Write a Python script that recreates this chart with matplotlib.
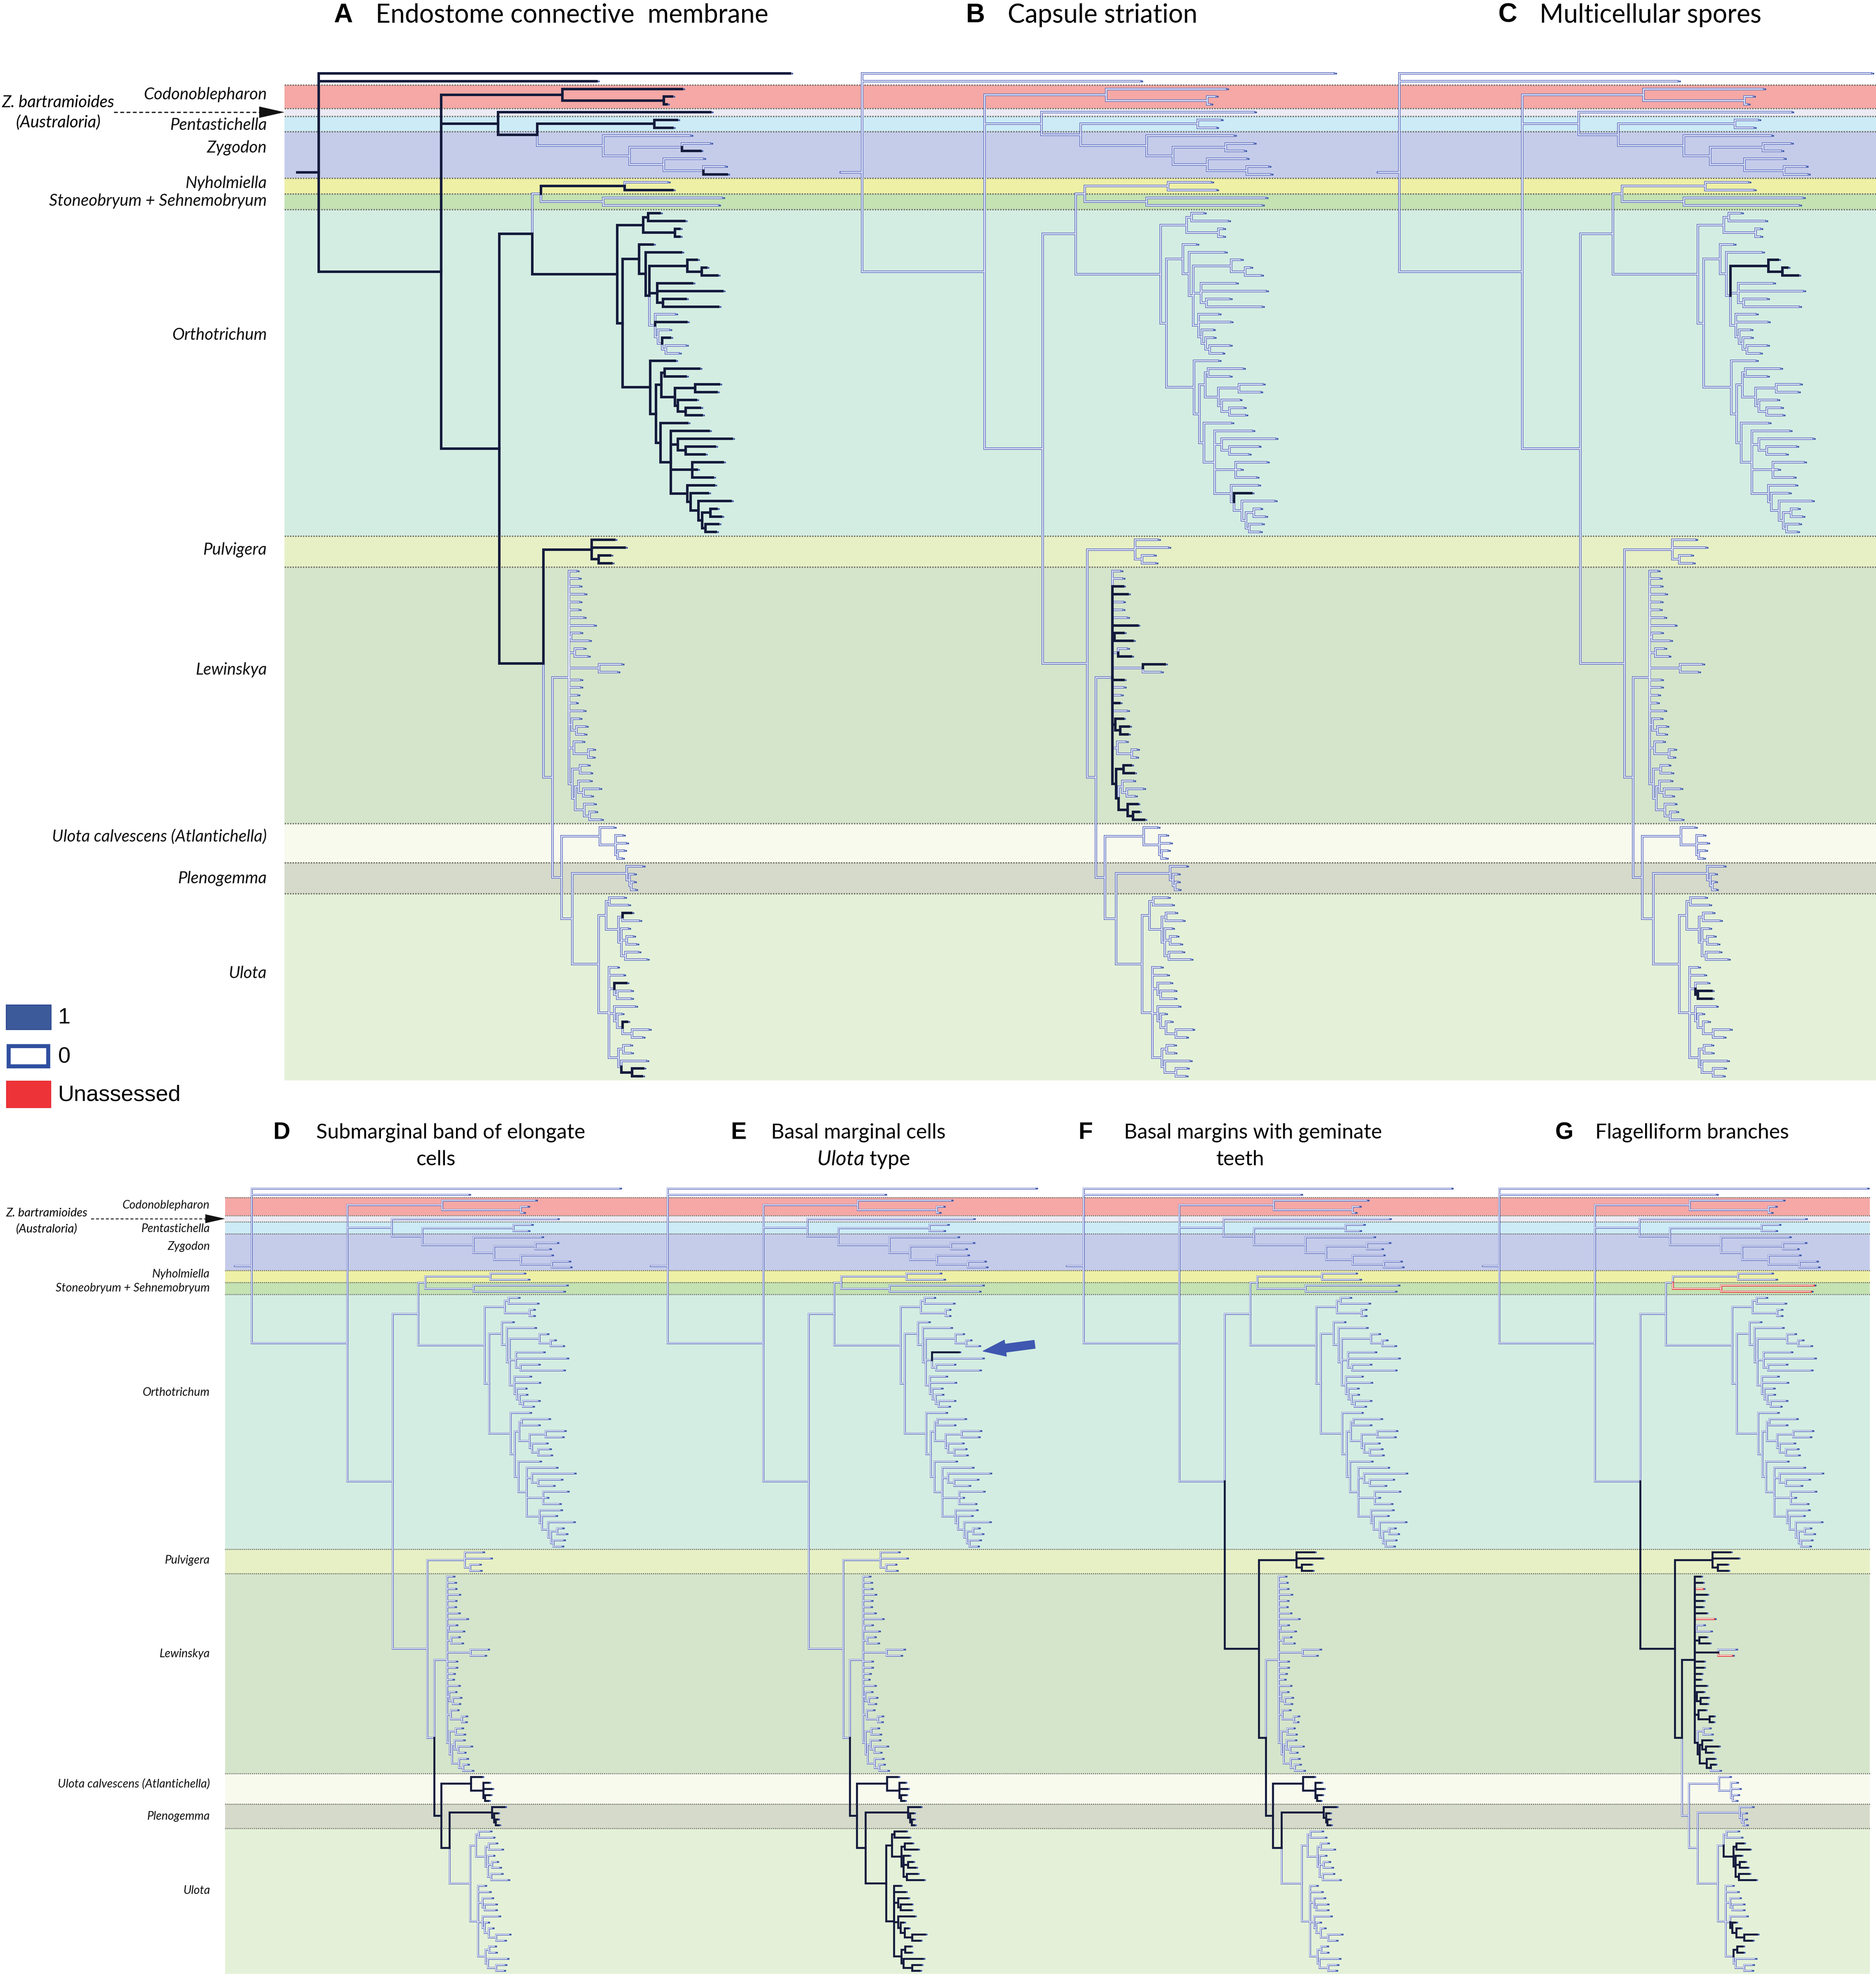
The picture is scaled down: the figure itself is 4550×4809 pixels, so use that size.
import matplotlib
matplotlib.use('Agg')
import matplotlib.pyplot as plt
from matplotlib.collections import LineCollection
from matplotlib.patches import Rectangle, Polygon, FancyArrow

plt.rcParams['font.family'] = ['Lato', 'DejaVu Sans']
plt.rcParams['mathtext.fontset'] = 'custom'
plt.rcParams['mathtext.it'] = 'Lato:italic'
plt.rcParams['mathtext.rm'] = 'Lato'

# ---- tree (newick; number after ':' = node depth, px from root) ----
CODONO = "(cd1:287.6,(cd2:279.6,cd3:275.4)cd_n:273)codono:193"
ZPZ = ("(zbart:310,((pe1:283.6,pe2:280)penta:265.6,(zy1:294,((zy2:309.6,zy3:302)zy_n2:287.5,"
       "(zy4:304,(zy5:321.4,zy6:323)zy_n4:304.4)zy_n3:273)zy_n1:246)zyg:225)pz:173)zpz:142")
NS = "((ny1:276,ny2:280)nyh:242,(st1:319,st2:316)stoneo:225)ns:176"
ORTH_1 = "((o1:270,o2:289.3)o_n970:260.6,(o3:285.5,o4:285.5)o_n1140:281.8)o_sub1:256.8"
ORTH_A = ("(o5:264.3,(o6:286.8,((o7:299.3,(o8:306.8,o9:315.5)o_n1310:303)o7_9:291.8,"
          "(o10:295.5,o11:319.3,(o12:290.5,o13:316.1)o_n1065:272.4)o_n1030:268,"
          "(o14:281.8,o15:291.2,(o16:277.4,(o17:278,(o18:290.5,o19:284.9)o_n1085:274.9)o_n1060:271.8)"
          "o_n1035:268.7)o_light:266.2)o_n980:261.8)o_n955:258.7)o_A:253.7")
ORTH_B = ("(o20:281.8,(((o21:301.1,o22:290.5)o_n1075:273.7,((o23:316.8,o24:314.9)o_n1270:298,"
          "(o25:298.6,(o26:301.8,o27:303)o_n1210:290.5)o_n1160:284.3)o_n1140b:281.8)o_n1055:271.2,"
          "(o28:291.8,(o29:308.6,(o30:326.8,(o31:313.6,o32:305.5)o_n1210b:290.5)o_n1160b:284.3,"
          "(o33:319.9,o34:299.3,o35:311.8)o_n1250:295.5,(o36:313,(o37:308,(o38:326.1,"
          "((o39:314.9,o40:318.6)o_n1365:309.9,(o41:316.1,o42:314.3)o_n1335:306.1)o_n1315:303.6)"
          "o_n1290:300.5)o_n1240:294.3)o_n1220b:291.8)o_n1115:278.7)o_n1050:270.5)o_n1020:266.8)o_B:262.4")
PULV = "(pu1:234,pu2:242.1,(pu3:230.7,pu4:231.8)pu_n:221.5)pulv:216"
LEW = ("(lw1:204.1,lw2:205.7,lw3:206.3,lw4:210.1,lw5:206.3,lw6:205.7,lw7:209.5,lw8:217.7,"
       "(lw9:206.8,lw10:213.9)lw9_10:199.7,(lw11:209.5,lw12:212.8)lw11_12:202.5,"
       "(lw13:239.4,lw14:236.2)lw_side:222,lw15:206.8,lw16:206.8,lw17:204.6,lw18:203.5,lw19:209.5,"
       "(lw20:206.3,(lw21:211.1,lw22:210.1)lw21_22:204.1)lw20_22:200.3,"
       "(lw23:208.4,(lw24:217.1,lw25:216.6)lw24_25:213.3)lw23_25:201.9,"
       "((lw26:212.8,lw27:214.9)lw26_27:206.8,((lw28:214.4,(lw29:222,lw30:215.5)lw29_30:209.5)lw28_30:205.7,"
       "(lw31:217.7,(lw32:218.8,lw33:223.1)lw32_33:214.4)lw31_33:210.1)lw28_33:203)lw26_33:200.8)lew:198.1")
UCALV = "(uc1:233.4,(uc2:240.5,uc3:243.2,(uc4:241.6,uc5:240)uc_n3:236.7)uc_n2:235)ucalv:222.6"
PLENO = "(pl1:256.2,(pl2:249.4,(pl3:249.4,pl4:250.3)pl_n3:247.5)pl_n2:245.9)pleno:243.7"
ULOTA = ("(((u1:241.6,u2:244.8)u1_2:230.2,((u3:247.5,u4:253.5)u3_4:240.5,(u5:244.8,"
         "(u6:248.6,u7:251.4)u6_7:243.7,(u8:253,u9:259.5)u8_9:242.7)u5_9:239.4)u3_9:237.2)u1_9:227.4,"
         "(u10:236.1,u11:241,(u12:243.5,(u13:247,u14:247)u13_14:236.1)u12_14:234,"
         "(u15:250.3,(u16:239.4,(u17:244,(u18:261.1,u19:256.2)u18_19:248.1)u17_19:240.5)u16_19:236.1)u15_19:234,"
         "((u20:246.5,u21:247)u20_21:241,(u22:259,(u23:256.8,u24:255.7)u23_24:248.1)u22_24:239.4)u20_24:237.2)"
         "u10_24:229.6)ulota:221.5")
TREE = (f"(out1:373,out2:220,({CODONO},{ZPZ},(({NS},({ORTH_1},({ORTH_A},{ORTH_B})o_sub2:240.6)orth:236.2)og:169,"
        f"({PULV},({LEW},({UCALV},({PLENO},{ULOTA})pu:200.8)ug:192.1)lu:185)plu:178)rest:143)ingroup:97)root:0")

# ---- genus bands ----
GROUP_NAMES = ['Codonoblepharon', 'Z. bartramioides', 'Pentastichella', 'Zygodon', 'Nyholmiella',
               'Stoneobryum + Sehnemobryum', 'Orthotrichum', 'Pulvigera', 'Lewinskya',
               'Ulota calvescens (Atlantichella)', 'Plenogemma', 'Ulota']
GROUP_NTIPS = [3, 1, 2, 6, 2, 2, 42, 4, 33, 5, 4, 24]
GROUP_COLORS = ['#F5A8A5', '#ECEAF3', '#CDEBF6', '#C5CCEA', '#EEF0A6', '#C4E2B2',
                '#D4EDE2', '#E7F0C5', '#D5E5CB', '#F8FAEE', '#D6DACA', '#E4F1D8']
N_OUTGROUP = 2

# ---- character states per panel: (node, state, 'clade'|'branch'); 1 = present, 0 = absent, 2 = unassessed ----
STATES_A = [('root', 1, 'clade'), ('zyg', 0, 'clade'), ('zy3', 1, 'branch'), ('zy6', 1, 'branch'),
            ('ns', 0, 'clade'), ('nyh', 1, 'branch'), ('ny2', 1, 'branch'),
            ('o_light', 0, 'clade'), ('o15', 1, 'branch'), ('o17', 1, 'branch'),
            ('lu', 0, 'clade'), ('u3', 1, 'branch'), ('u12', 1, 'branch'), ('u17', 1, 'branch'),
            ('u23_24', 1, 'clade')]
STATES_B = [('o37', 1, 'branch'), ('lw3', 1, 'branch'), ('lw4', 1, 'branch'), ('lw8', 1, 'branch'),
            ('lw9_10', 1, 'clade'), ('lw12', 1, 'branch'), ('lw13', 1, 'branch'), ('lw15', 1, 'branch'),
            ('lw18', 1, 'branch'), ('lw20_22', 1, 'clade'), ('lw26_33', 1, 'clade'), ('lw28_30', 0, 'clade')]
STATES_C = [('o7_9', 1, 'clade'), ('u13_14', 1, 'clade')]
STATES_D = [('ug', 1, 'clade'), ('ulota', 0, 'clade')]
STATES_E = [('ug', 1, 'clade'), ('o10', 1, 'branch')]
STATES_F = [('plu', 1, 'clade'), ('lew', 0, 'clade'), ('ulota', 0, 'clade')]
STATES_G = [('plu', 1, 'clade'), ('ug', 0, 'clade'), ('lw9_10', 0, 'clade'), ('lw13', 0, 'branch'),
            ('lw3', 2, 'branch'), ('lw8', 2, 'branch'), ('lw14', 2, 'branch'), ('lw26_27', 0, 'clade'),
            ('lw33', 0, 'branch'), ('stoneo', 2, 'clade'), ('u3_9', 1, 'clade'), ('u16_19', 1, 'clade'),
            ('u20_21', 1, 'clade')]

PANEL_TITLES = ['Endostome connective  membrane', 'Capsule striation', 'Multicellular spores',
                'Submarginal band of elongate', 'Basal marginal cells', 'Basal margins with geminate',
                'Flagelliform branches']
PANEL_TITLES_2 = [None, None, None, 'cells', '$\\mathit{Ulota}$ type', 'teeth', None]

# ---- layout (display px of a 1484 x 1568.5 canvas) ----
W, H = 1484.0, 1568.5
TIP_Y0, TIP_DY = 58.0, 6.15
ROOT_STUB = -17
LABEL_Y = [75, None, 99, 117, 145, 159, 265, 435, 530, 662, 695, 770]
ROW_TOP = dict(y0=58.0, s=1.0, band=(225, 1484), label_x=211, label_fs=29, zb=(46, 81, 97, 90, 225, 29),
               title_fs=45, letter_fs=46)
ROW_BOT = dict(y0=940.0, s=0.78, band=(178, 1479), label_x=166, label_fs=20.5, zb=(37, 959.5, 972, 72, 178, 21),
               title_fs=36, letter_fs=41)
PANELS = [('A', ROW_TOP, 252, STATES_A, (264, 297, 12)),
          ('B', ROW_TOP, 682, STATES_B, (764, 797, 12)),
          ('C', ROW_TOP, 1107, STATES_C, (1185, 1218, 12)),
          ('D', ROW_BOT, 199, STATES_D, (216, 250, 896)),
          ('E', ROW_BOT, 528, STATES_E, (578, 610, 896)),
          ('F', ROW_BOT, 857, STATES_F, (853, 889, 896)),
          ('G', ROW_BOT, 1186, STATES_G, (1230, 1262, 896))]
LINE2_DX = {'D': 95, 'E': 73, 'F': 92}
DARK = '#141B3C'
LIGHT_EDGE = '#6677C4'
LIGHT_FILL = '#F1F2FB'
RED = '#E52A2D'
TIP_COLOR = '#3350A6'


def parse(s):
    pos = 0

    def rec():
        nonlocal pos
        kids = []
        if s[pos] == '(':
            pos += 1
            kids.append(rec())
            while s[pos] == ',':
                pos += 1
                kids.append(rec())
            pos += 1
        start = pos
        while s[pos] != ':':
            pos += 1
        label = s[start:pos]
        pos += 1
        start = pos
        while pos < len(s) and s[pos] not in ',()':
            pos += 1
        return {'label': label, 'x': float(s[start:pos]), 'kids': kids}
    return rec()


root = parse(TREE)
nodes = []
n_tips = [0]


def layout(n, parent):
    n['parent'] = parent
    n['i'] = len(nodes)
    nodes.append(n)
    if not n['kids']:
        n['y'] = TIP_Y0 + TIP_DY * n_tips[0]
        n_tips[0] += 1
    else:
        for k in n['kids']:
            layout(k, n)
        n['y'] = 0.5 * (n['kids'][0]['y'] + n['kids'][-1]['y'])


layout(root, None)
by_label = {n['label']: n for n in nodes}


def ty(row, y):
    return row['y0'] + row['s'] * (y - TIP_Y0)


def panel_states(rules):
    st = [0] * len(nodes)
    for label, state, mode in rules:
        stack = [by_label[label]]
        while stack:
            n = stack.pop()
            st[n['i']] = state
            if mode == 'clade':
                stack.extend(n['kids'])
    return st


fig = plt.figure(figsize=(45.5, 48.09), dpi=100)
ax = fig.add_axes([0, 0, 1, 1])
ax.set_xlim(0, W)
ax.set_ylim(H, 0)
ax.axis('off')


def draw_bands(row):
    x1, x2 = row['band']
    i = N_OUTGROUP
    for name, nt, col, ly in zip(GROUP_NAMES, GROUP_NTIPS, GROUP_COLORS, LABEL_Y):
        top = ty(row, TIP_Y0 + TIP_DY * (i - 0.5))
        bot = ty(row, TIP_Y0 + TIP_DY * (i + nt - 0.5))
        ax.add_patch(Rectangle((x1, top), x2 - x1, bot - top, fc=col, ec='none', zorder=1))
        ax.plot([x1, x2], [top, top], color='#6F6F66', lw=2.4 * row['s'],
                ls=(0, (1.0, 0.9)), zorder=2)
        if ly is not None:
            ax.text(row['label_x'], ty(row, ly), name, ha='right', va='center',
                    fontsize=row['label_fs'], style='italic', color='#111111')
        i += nt
    # Z. bartramioides pointer
    cx, y1, y2, xa, xb, fs = row['zb']
    ax.text(cx, y1, 'Z. bartramioides', ha='center', va='center', fontsize=fs, style='italic')
    ax.text(cx, y2, '(Australoria)', ha='center', va='center', fontsize=fs, style='italic')
    ya = ty(row, TIP_Y0 + TIP_DY * 5)
    hl = 20 * row['s']
    hw = 4.5 * row['s']
    ax.plot([xa, xb - hl], [ya, ya], color='#222222', lw=2.2 * row['s'], ls=(0, (3, 2)), zorder=3)
    ax.add_patch(Polygon([(xb - hl, ya - hw), (xb, ya), (xb - hl, ya + hw)], closed=True,
                         fc='#111111', ec='none', zorder=3))


def draw_tree(x0, row, rules):
    s = row['s']
    st = panel_states(rules)
    segs = {0: [], 1: [], 2: []}
    tips = []
    for n in nodes:
        X = x0 + s * n['x']
        Y = ty(row, n['y'])
        p = n['parent']
        if p is None:
            seg = [(x0 + s * ROOT_STUB, Y), (X, Y)]
        else:
            PX = x0 + s * p['x']
            PY = ty(row, p['y'])
            seg = [(PX, PY), (PX, Y), (X, Y)]
        segs[st[n['i']]].append(seg)
        if not n['kids']:
            tips.append((X + 1.6 * s, Y))
    for key, edge, fill, z in [(0, LIGHT_EDGE, LIGHT_FILL, 3), (2, RED, '#FFFFFF', 5)]:
        ax.add_collection(LineCollection(segs[key], colors=edge, linewidths=4.2 * s,
                                         capstyle='projecting', joinstyle='miter', zorder=z))
        ax.add_collection(LineCollection(segs[key], colors=fill, linewidths=1.7 * s,
                                         capstyle='butt', joinstyle='miter', zorder=z + 0.5))
    ax.add_collection(LineCollection(segs[1], colors=DARK, linewidths=4.4 * s,
                                     capstyle='projecting', joinstyle='miter', zorder=7))
    ax.plot([t[0] for t in tips], [t[1] for t in tips], 's', ms=3.4 * s, color=TIP_COLOR,
            mec='none', zorder=8)


draw_bands(ROW_TOP)
draw_bands(ROW_BOT)

for (letter, row, x0, rules, tpos), t1, t2 in zip(PANELS, PANEL_TITLES, PANEL_TITLES_2):
    draw_tree(x0, row, rules)
    lx, tx, yy = tpos
    ax.text(lx, yy, letter, fontsize=row['letter_fs'], fontweight='bold',
            family='Liberation Sans', va='center', ha='left')
    ax.text(tx, yy, t1, fontsize=row['title_fs'], va='center', ha='left')
    if t2 is not None:
        ax.text(tx + LINE2_DX[letter], yy + 21, t2, fontsize=row['title_fs'],
                va='center', ha='center')

# arrow in panel E
ax.add_patch(FancyArrow(818.5, 1063.3, -41.0, 5.4, width=6.5, head_width=13, head_length=18,
                        length_includes_head=True, color='#3F57B0', zorder=9))

# legend
ax.add_patch(Rectangle((5, 795), 35, 19, fc='#3C5A9A', ec='#2E4C94', lw=2, zorder=3))
ax.add_patch(Rectangle((7, 827.5), 31, 16, fc='white', ec='#2F4F9F', lw=7, zorder=3))
ax.add_patch(Rectangle((5, 855), 35, 21, fc='#EE3338', ec='#E0282E', lw=1, zorder=3))
for yy, txt in [(805, '1'), (836, '0'), (866, 'Unassessed')]:
    ax.text(46, yy, txt, fontsize=39, family='Liberation Sans', va='center', ha='left')

fig.savefig('out.png', dpi=100, facecolor='white')
